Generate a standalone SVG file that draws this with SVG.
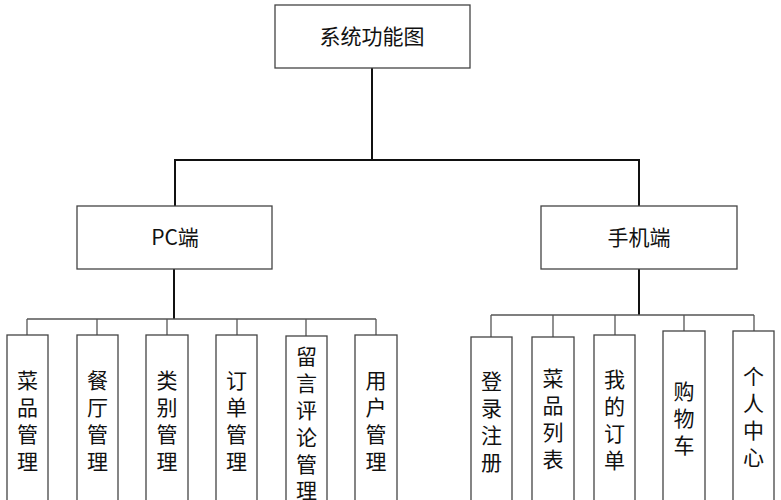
<svg xmlns="http://www.w3.org/2000/svg" width="781" height="500" viewBox="0 0 781 500">
<style>
.b{fill:#fff;stroke:#444;stroke-width:1.3}
text{font-family:"Noto Sans CJK SC","Liberation Sans",sans-serif;fill:#111;text-anchor:middle}
.h{font-size:21px}
.v{font-size:21px}
.c line{stroke:#111;stroke-width:2}
.c .t{stroke:#555;stroke-width:1.3}
</style>
<rect width="781" height="500" fill="#fff"/>
<g class="c">
<line x1="372" y1="68" x2="372" y2="160"/>
<line x1="174" y1="160" x2="640" y2="160"/>
<line x1="175" y1="159" x2="175" y2="206"/>
<line x1="639" y1="159" x2="639" y2="206"/>
<line x1="174" y1="269" x2="174" y2="319"/>
<line class="t" x1="27" y1="319" x2="376" y2="319"/>
<line class="t" x1="27" y1="319" x2="27" y2="335"/>
<line class="t" x1="97" y1="319" x2="97" y2="335"/>
<line class="t" x1="167" y1="319" x2="167" y2="335"/>
<line class="t" x1="237" y1="319" x2="237" y2="335"/>
<line class="t" x1="306" y1="319" x2="306" y2="336"/>
<line class="t" x1="376" y1="319" x2="376" y2="335"/>
<line x1="639" y1="269" x2="639" y2="315"/>
<line class="t" x1="491" y1="315" x2="754" y2="315"/>
<line class="t" x1="491" y1="315" x2="491" y2="337"/>
<line class="t" x1="553" y1="315" x2="553" y2="337"/>
<line class="t" x1="615" y1="315" x2="615" y2="335"/>
<line class="t" x1="684" y1="315" x2="684" y2="331"/>
<line class="t" x1="754" y1="315" x2="754" y2="331"/>
</g>
<g id="root"><rect class="b" x="275" y="5" width="195" height="63"/><text class="h" x="372" y="44">系统功能图</text></g>
<g id="pc"><rect class="b" x="77" y="206" width="195" height="63"/><text class="h" x="175" y="245">PC端</text></g>
<g id="mobile"><rect class="b" x="541" y="206" width="196" height="63"/><text class="h" x="639" y="245">手机端</text></g>
<g id="n1"><rect class="b" x="7" y="335" width="41" height="170"/><text class="v"><tspan x="27.5" y="388">菜</tspan><tspan x="27.5" y="415">品</tspan><tspan x="27.5" y="442">管</tspan><tspan x="27.5" y="469">理</tspan></text></g>
<g id="n2"><rect class="b" x="77" y="335" width="41" height="170"/><text class="v"><tspan x="97.5" y="388">餐</tspan><tspan x="97.5" y="415">厅</tspan><tspan x="97.5" y="442">管</tspan><tspan x="97.5" y="469">理</tspan></text></g>
<g id="n3"><rect class="b" x="146" y="335" width="42" height="170"/><text class="v"><tspan x="167" y="388">类</tspan><tspan x="167" y="415">别</tspan><tspan x="167" y="442">管</tspan><tspan x="167" y="469">理</tspan></text></g>
<g id="n4"><rect class="b" x="216" y="335" width="41" height="170"/><text class="v"><tspan x="236.5" y="388">订</tspan><tspan x="236.5" y="415">单</tspan><tspan x="236.5" y="442">管</tspan><tspan x="236.5" y="469">理</tspan></text></g>
<g id="n5"><rect class="b" x="286" y="336" width="41" height="170"/><text class="v"><tspan x="306.5" y="364">留</tspan><tspan x="306.5" y="391">言</tspan><tspan x="306.5" y="418">评</tspan><tspan x="306.5" y="445">论</tspan><tspan x="306.5" y="472">管</tspan><tspan x="306.5" y="498">理</tspan></text></g>
<g id="n6"><rect class="b" x="355" y="335" width="42" height="170"/><text class="v"><tspan x="376" y="388">用</tspan><tspan x="376" y="415">户</tspan><tspan x="376" y="442">管</tspan><tspan x="376" y="469">理</tspan></text></g>
<g id="m1"><rect class="b" x="471" y="337" width="41" height="170"/><text class="v"><tspan x="491.5" y="389">登</tspan><tspan x="491.5" y="416">录</tspan><tspan x="491.5" y="443">注</tspan><tspan x="491.5" y="470">册</tspan></text></g>
<g id="m2"><rect class="b" x="532" y="337" width="42" height="170"/><text class="v"><tspan x="553" y="386">菜</tspan><tspan x="553" y="413">品</tspan><tspan x="553" y="440">列</tspan><tspan x="553" y="467">表</tspan></text></g>
<g id="m3"><rect class="b" x="594" y="335" width="41" height="170"/><text class="v"><tspan x="614.5" y="387">我</tspan><tspan x="614.5" y="414">的</tspan><tspan x="614.5" y="441">订</tspan><tspan x="614.5" y="468">单</tspan></text></g>
<g id="m4"><rect class="b" x="663" y="331" width="42" height="175"/><text class="v"><tspan x="684" y="399">购</tspan><tspan x="684" y="426">物</tspan><tspan x="684" y="453">车</tspan></text></g>
<g id="m5"><rect class="b" x="733" y="331" width="41" height="175"/><text class="v"><tspan x="753.5" y="384">个</tspan><tspan x="753.5" y="411">人</tspan><tspan x="753.5" y="438">中</tspan><tspan x="753.5" y="465">心</tspan></text></g>
</svg>
